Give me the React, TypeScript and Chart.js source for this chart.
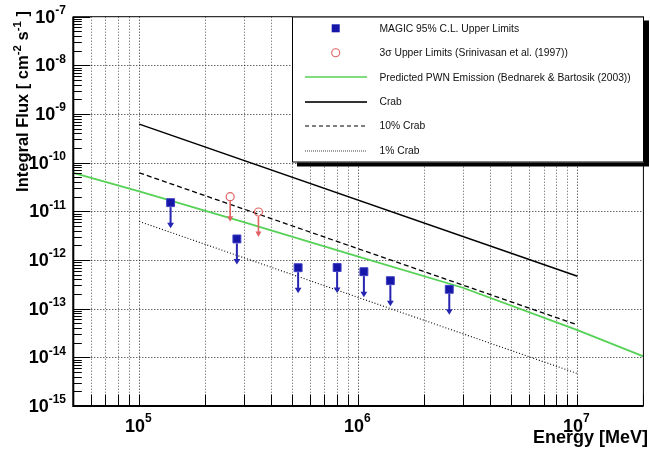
import React, { useEffect, useRef } from "react";
import { Chart, registerables } from "chart.js";

Chart.register(...registerables);

// ---------------- data ----------------
const magicEnergy = [1.39e5, 2.79e5, 5.31e5, 8.0e5, 1.06e6, 1.4e6, 2.6e6];
const magicFlux = [1.51e-11, 2.71e-12, 6.95e-13, 7.0e-13, 5.75e-13, 3.76e-13, 2.5e-13];

const srinivasanEnergy = [2.6e5, 3.5e5];
const srinivasanFlux = [2.0e-11, 9.7e-12];

const pwnEnergy = [5e4, 1e5, 3e5, 1e6, 3e6, 1e7, 2e7];
const pwnFlux = [6.17e-11, 2.57e-11, 6.03e-12, 1.17e-12, 2.69e-13, 3.63e-14, 1.05e-14];

const crabEnergy = [1e5, 1e7];
const crabFlux = [6.2e-10, 4.65e-13];
const crab10Flux = [6.2e-11, 4.65e-14];
const crab1Flux = [6.2e-12, 4.65e-15];

const xMin = 5e4;
const xMax = 2e7;
const yMin = 1e-15;
const yMax = 1e-7;
const xTickExponents = [5, 6, 7];
const yTickExponents = [-15, -14, -13, -12, -11, -10, -9, -8, -7];

const legendLabels = [
  "MAGIC 95% C.L. Upper Limits",
  "3\u03c3 Upper Limits (Srinivasan et al. (1997))",
  "Predicted PWN Emission (Bednarek & Bartosik (2003))",
  "Crab",
  "10% Crab",
  "1% Crab",
];
const xTitle = "Energy [MeV]";
const yTitleParts: [string, boolean][] = [
  ["Integral Flux [ cm", false],
  ["-2", true],
  [" s", false],
  ["-1", true],
  [" ]", false],
];

// ---------------- styles ----------------
const FONT = '"Liberation Sans", Arial, Helvetica, sans-serif';
const BLUE = "#1616a8";
const BLUE_EDGE = "#4040c4";
const BLUE_ARROW = "#2525b2";
const RED = "#e06262";
const GREEN = "#55d255";

const toXY = (xs: number[], ys: number[]) => xs.map((x, i) => ({ x, y: ys[i] }));

function drawSup(
  ctx: CanvasRenderingContext2D,
  base: string,
  sup: string,
  x: number,
  y: number,
  align: "left" | "right" | "center",
  baseFont: string,
  supFont: string,
  rise: number
) {
  ctx.font = baseFont;
  const wb = ctx.measureText(base).width;
  ctx.font = supFont;
  const ws = ctx.measureText(sup).width;
  const total = wb + ws;
  const x0 = align === "right" ? x - total : align === "center" ? x - total / 2 : x;
  ctx.textAlign = "left";
  ctx.textBaseline = "alphabetic";
  ctx.font = baseFont;
  ctx.fillText(base, x0, y);
  ctx.font = supFont;
  ctx.fillText(sup, x0 + wb, y - rise);
}

function drawArrow(
  ctx: CanvasRenderingContext2D,
  x: number,
  y0: number,
  tip: number,
  color: string,
  width: number,
  headW: number,
  headH: number
) {
  ctx.save();
  ctx.strokeStyle = color;
  ctx.fillStyle = color;
  ctx.lineWidth = width;
  ctx.setLineDash([]);
  ctx.beginPath();
  ctx.moveTo(x, y0);
  ctx.lineTo(x, tip - headH + 1);
  ctx.stroke();
  ctx.beginPath();
  ctx.moveTo(x - headW, tip - headH);
  ctx.lineTo(x + headW, tip - headH);
  ctx.lineTo(x, tip);
  ctx.closePath();
  ctx.fill();
  ctx.restore();
}

const rootStylePlugin = {
  id: "rootStyle",
  beforeDatasetsDraw(chart: any) {
    const { ctx, chartArea: a, scales } = chart;
    const x = scales.x;
    const y = scales.y;
    ctx.save();
    ctx.lineWidth = 1;
    ctx.setLineDash([1, 2]);
    // vertical grid at every log tick
    for (let e = 4; e <= 7; e++) {
      for (let m = 1; m <= 9; m++) {
        const v = m * Math.pow(10, e);
        if (v <= xMin * 1.001 || v >= xMax * 0.999) continue;
        const px = Math.round(x.getPixelForValue(v)) + 0.5;
        ctx.strokeStyle = m === 1 ? "#222" : "#555";
        ctx.beginPath();
        ctx.moveTo(px, a.top);
        ctx.lineTo(px, a.bottom);
        ctx.stroke();
      }
    }
    // horizontal grid at decades
    for (const e of yTickExponents) {
      const v = Math.pow(10, e);
      if (v <= yMin * 1.001 || v >= yMax * 0.999) continue;
      const py = Math.round(y.getPixelForValue(v)) + 0.5;
      ctx.strokeStyle = "#222";
      ctx.beginPath();
      ctx.moveTo(a.left, py);
      ctx.lineTo(a.right, py);
      ctx.stroke();
    }
    ctx.restore();
  },
  afterDatasetsDraw(chart: any) {
    const { ctx, chartArea: a, scales } = chart;
    const x = scales.x;
    const y = scales.y;

    // arrows for upper limits
    const magicMeta = chart.getDatasetMeta(0);
    magicMeta.data.forEach((p: any) => {
      drawArrow(ctx, p.x, p.y + 4.5, p.y + 25.5, BLUE_ARROW, 2, 3.4, 5.5);
    });
    const redMeta = chart.getDatasetMeta(1);
    redMeta.data.forEach((p: any) => {
      drawArrow(ctx, p.x, p.y + 4.5, p.y + 25, RED, 1.6, 3, 5.5);
    });

    ctx.save();
    ctx.setLineDash([]);
    ctx.strokeStyle = "#000";
    // frame
    ctx.lineWidth = 1;
    ctx.strokeRect(a.left, a.top, a.right - a.left, a.bottom - a.top);
    ctx.lineWidth = 2;
    ctx.beginPath();
    ctx.moveTo(a.left, a.top);
    ctx.lineTo(a.left, a.bottom);
    ctx.lineTo(a.right, a.bottom);
    ctx.stroke();

    // y ticks (inward)
    ctx.lineWidth = 1;
    for (const e of yTickExponents) {
      for (let m = 1; m <= 9; m++) {
        const v = m * Math.pow(10, e);
        if (v < yMin * 0.999 || v > yMax * 1.001) continue;
        const py = Math.round(y.getPixelForValue(v)) + 0.5;
        const len = m === 1 ? 17 : 8.5;
        ctx.beginPath();
        ctx.moveTo(a.left, py);
        ctx.lineTo(a.left + len, py);
        ctx.stroke();
      }
    }
    // x ticks (inward)
    for (let e = 4; e <= 7; e++) {
      for (let m = 1; m <= 9; m++) {
        const v = m * Math.pow(10, e);
        if (v < xMin * 0.999 || v > xMax * 1.001) continue;
        const px = Math.round(x.getPixelForValue(v)) + 0.5;
        ctx.beginPath();
        ctx.moveTo(px, a.bottom);
        ctx.lineTo(px, a.bottom - 11.5);
        ctx.stroke();
      }
    }

    // tick labels
    ctx.fillStyle = "#000";
    for (const e of yTickExponents) {
      const py = y.getPixelForValue(Math.pow(10, e));
      drawSup(ctx, "10", String(e), 66, py + 6, "right", `bold 18px ${FONT}`, `bold 12px ${FONT}`, 8.7);
    }
    for (const e of xTickExponents) {
      const px = x.getPixelForValue(Math.pow(10, e));
      drawSup(ctx, "10", String(e), px - 1, 432, "center", `bold 18px ${FONT}`, `bold 12px ${FONT}`, 10.3);
    }
    ctx.restore();
  },
  afterDraw(chart: any) {
    const { ctx } = chart;
    ctx.save();
    ctx.setLineDash([]);

    // axis titles
    ctx.fillStyle = "#000";
    ctx.font = `bold 18px ${FONT}`;
    ctx.textAlign = "right";
    ctx.textBaseline = "alphabetic";
    ctx.fillText(xTitle, 648, 443);

    // y title rotated, right aligned at top
    const baseFont = `bold 16.5px ${FONT}`;
    const supFont = `bold 11.5px ${FONT}`;
    let total = 0;
    for (const [t, s] of yTitleParts) {
      ctx.font = s ? supFont : baseFont;
      total += ctx.measureText(t).width;
    }
    ctx.save();
    ctx.translate(27.5, 11);
    ctx.rotate(-Math.PI / 2);
    ctx.textAlign = "left";
    let u = -total;
    for (const [t, s] of yTitleParts) {
      ctx.font = s ? supFont : baseFont;
      ctx.fillText(t, u, s ? -7 : 0);
      u += ctx.measureText(t).width;
    }
    ctx.restore();

    // legend
    const L = 292, T = 16.5, R = 644, B = 162.5;
    ctx.fillStyle = "#000";
    ctx.fillRect(L + 5, T + 4, R - L, B - T);
    ctx.fillStyle = "#fff";
    ctx.fillRect(L, T, R - L, B - T);
    ctx.strokeStyle = "#000";
    ctx.lineWidth = 1;
    ctx.strokeRect(L + 0.5, T + 0.5, R - L - 1, B - T - 1);

    const symX = 335.7;
    const lx0 = 305, lx1 = 367;
    const textX = 379.5;
    const rowY = (i: number) => 28.3 + i * 24.45;
    ctx.font = `10.3px ${FONT}`;
    ctx.textAlign = "left";
    ctx.textBaseline = "middle";
    ctx.fillStyle = "#111";
    legendLabels.forEach((lab, i) => {
      ctx.fillText(lab, textX, rowY(i) + 0.5);
    });
    // symbols
    ctx.fillStyle = BLUE;
    ctx.fillRect(symX - 4, rowY(0) - 4, 8, 8);
    ctx.strokeStyle = RED;
    ctx.lineWidth = 1.1;
    ctx.beginPath();
    ctx.arc(symX, rowY(1), 4, 0, Math.PI * 2);
    ctx.stroke();
    const legLine = (i: number, color: string, w: number, dash: number[]) => {
      ctx.strokeStyle = color;
      ctx.lineWidth = w;
      ctx.setLineDash(dash);
      ctx.beginPath();
      ctx.moveTo(lx0, Math.round(rowY(i)));
      ctx.lineTo(lx1, Math.round(rowY(i)));
      ctx.stroke();
    };
    legLine(2, GREEN, 1.5, []);
    legLine(3, "#333", 2, []);
    legLine(4, "#000", 1.2, [4, 3]);
    legLine(5, "#444", 1, [1, 1]);
    ctx.restore();
  },
};

export default function App() {
  const canvasRef = useRef<HTMLCanvasElement | null>(null);

  useEffect(() => {
    const canvas = canvasRef.current;
    if (!canvas) return;
    const chart = new Chart(canvas, {
      type: "scatter",
      data: {
        datasets: [
          {
            label: legendLabels[0],
            data: toXY(magicEnergy, magicFlux),
            pointStyle: "rect",
            pointRadius: 5.6,
            backgroundColor: BLUE,
            borderColor: BLUE_EDGE,
            borderWidth: 1,
            showLine: false,
          },
          {
            label: legendLabels[1],
            data: toXY(srinivasanEnergy, srinivasanFlux),
            pointStyle: "circle",
            pointRadius: 4,
            backgroundColor: "rgba(255,255,255,0)",
            borderColor: RED,
            borderWidth: 1.2,
            showLine: false,
          },
          {
            label: legendLabels[2],
            data: toXY(pwnEnergy, pwnFlux),
            showLine: true,
            borderColor: GREEN,
            borderWidth: 1.8,
            pointRadius: 0,
            fill: false,
          },
          {
            label: legendLabels[3],
            data: toXY(crabEnergy, crabFlux),
            showLine: true,
            borderColor: "#000",
            borderWidth: 1.5,
            pointRadius: 0,
            fill: false,
          },
          {
            label: legendLabels[4],
            data: toXY(crabEnergy, crab10Flux),
            showLine: true,
            borderColor: "#000",
            borderWidth: 1.3,
            borderDash: [5, 3],
            pointRadius: 0,
            fill: false,
          },
          {
            label: legendLabels[5],
            data: toXY(crabEnergy, crab1Flux),
            showLine: true,
            borderColor: "#000",
            borderWidth: 1.1,
            borderDash: [1, 2],
            pointRadius: 0,
            fill: false,
          },
        ],
      },
      options: {
        responsive: false,
        animation: false,
        devicePixelRatio: 1,
        events: [],
        layout: { padding: { left: 73.3, top: 16.7, right: 2.4, bottom: 44 } },
        plugins: {
          legend: { display: false },
          tooltip: { enabled: false },
        },
        scales: {
          x: { type: "logarithmic", min: xMin, max: xMax, display: false },
          y: { type: "logarithmic", min: yMin, max: yMax, display: false },
        },
      },
      plugins: [rootStylePlugin],
    } as any);
    return () => chart.destroy();
  }, []);

  return (
    <div style={{ position: "absolute", left: 0, top: 0, width: 650, height: 450, background: "#fff" }}>
      <canvas ref={canvasRef} width={650} height={450} style={{ display: "block" }} />
    </div>
  );
}
